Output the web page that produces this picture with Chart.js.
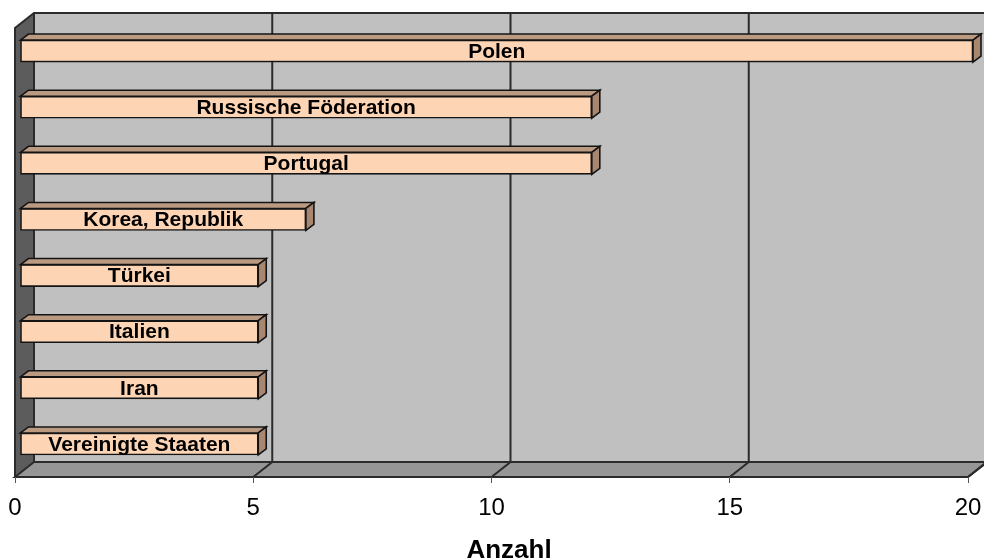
<!DOCTYPE html>
<html>
<head>
<meta charset="utf-8">
<script src="https://cdn.jsdelivr.net/npm/chart.js@4"></script>
<style>
  body { margin: 0; background: #fff; }
  #wrap { width: 984px; height: 560px; position: relative; }
</style>
</head>
<body>
<div id="wrap"><canvas id="barChart"></canvas></div>
<script>
// data
const categories = ['Polen', 'Russische Föderation', 'Portugal', 'Korea, Republik',
    'Türkei', 'Italien', 'Iran', 'Vereinigte Staaten'];
const anzahl = [20, 12, 12, 6, 5, 5, 5, 5];
const xMin = 0;
const xMax = 20;
const xStep = 5;
const axisTitle = 'Anzahl';

// depth of the fake 3d box
const DX = 19, DY = 15;
// bars sit a bit behind the front plane
const BX = 5, BY = 5;
// depth of each bar
const BDX = 8, BDY = 6;

const FONT = '"Liberation Sans", Arial, sans-serif';

const box3d = {
    id: 'box3d',
    beforeDraw(chart) {
        const ctx = chart.ctx;
        const a = chart.chartArea;
        const xs = chart.scales.x;
        ctx.save();
        ctx.lineJoin = 'miter';
        // back wall
        ctx.fillStyle = '#c0c0c0';
        ctx.fillRect(a.left + DX, a.top - DY, a.right - a.left, a.bottom - a.top);
        // floor
        ctx.beginPath();
        ctx.moveTo(a.left + DX, a.bottom - DY);
        ctx.lineTo(a.right + DX, a.bottom - DY);
        ctx.lineTo(a.right, a.bottom);
        ctx.lineTo(a.left, a.bottom);
        ctx.closePath();
        ctx.fillStyle = '#969696';
        ctx.fill();
        // left wall
        ctx.beginPath();
        ctx.moveTo(a.left, a.top);
        ctx.lineTo(a.left + DX, a.top - DY);
        ctx.lineTo(a.left + DX, a.bottom - DY);
        ctx.lineTo(a.left, a.bottom);
        ctx.closePath();
        ctx.fillStyle = '#5c5c5c';
        ctx.fill();

        ctx.strokeStyle = '#2b2b2b';
        ctx.lineWidth = 2;
        // grid lines on back wall and floor
        for (let v = xMin + xStep; v <= xMax; v += xStep) {
            const px = xs.getPixelForValue(v);
            ctx.beginPath();
            ctx.moveTo(px + DX, a.top - DY);
            ctx.lineTo(px + DX, a.bottom - DY);
            ctx.lineTo(px, a.bottom);
            ctx.stroke();
        }
        // outlines
        ctx.beginPath();
        ctx.moveTo(a.left, a.bottom);
        ctx.lineTo(a.left, a.top);
        ctx.lineTo(a.left + DX, a.top - DY);
        ctx.lineTo(a.right + DX, a.top - DY);
        ctx.moveTo(a.left + DX, a.top - DY);
        ctx.lineTo(a.left + DX, a.bottom - DY);
        ctx.lineTo(a.right + DX, a.bottom - DY);
        ctx.moveTo(a.left + DX, a.bottom - DY);
        ctx.lineTo(a.left, a.bottom);
        ctx.lineTo(a.right, a.bottom);
        ctx.lineTo(a.right + DX, a.bottom - DY);
        ctx.stroke();
        ctx.restore();
    },
    beforeDatasetsDraw(chart) {
        chart.ctx.save();
        chart.ctx.translate(BX, -BY);
    },
    afterDatasetsDraw(chart) {
        const ctx = chart.ctx;
        const meta = chart.getDatasetMeta(0);
        ctx.lineWidth = 1.6;
        ctx.strokeStyle = '#141414';
        meta.data.forEach((bar, i) => {
            const p = bar.getProps(['x', 'y', 'base', 'height'], true);
            const x0 = p.base, x1 = p.x;
            const yt = p.y - p.height / 2, yb = p.y + p.height / 2;
            // top face
            ctx.beginPath();
            ctx.moveTo(x0, yt);
            ctx.lineTo(x0 + BDX, yt - BDY);
            ctx.lineTo(x1 + BDX, yt - BDY);
            ctx.lineTo(x1, yt);
            ctx.closePath();
            ctx.fillStyle = '#bb9a82';
            ctx.fill();
            ctx.stroke();
            // side face
            ctx.beginPath();
            ctx.moveTo(x1, yt);
            ctx.lineTo(x1 + BDX, yt - BDY);
            ctx.lineTo(x1 + BDX, yb - BDY);
            ctx.lineTo(x1, yb);
            ctx.closePath();
            ctx.fillStyle = '#a88670';
            ctx.fill();
            ctx.stroke();
            // category label
            ctx.fillStyle = '#000';
            ctx.font = 'bold 21px ' + FONT;
            ctx.textAlign = 'center';
            ctx.textBaseline = 'middle';
            ctx.fillText(categories[i], (x0 + x1) / 2, p.y + 1);
        });
        ctx.restore();
    },
    afterDraw(chart) {
        // axis title, centred on the whole box incl. depth
        const ctx = chart.ctx;
        const a = chart.chartArea;
        ctx.save();
        ctx.fillStyle = '#000';
        ctx.font = 'bold 26px ' + FONT;
        ctx.textAlign = 'center';
        ctx.textBaseline = 'alphabetic';
        ctx.fillText(axisTitle, (a.left + a.right + DX + 16) / 2, 558);
        ctx.restore();
    }
};

const ctx = document.getElementById('barChart').getContext('2d');
const barChart = new Chart(ctx, {
    type: 'bar',
    data: {
        labels: categories,
        datasets: [{
            label: axisTitle,
            data: anzahl,
            backgroundColor: '#fdd5b5',
            borderColor: '#141414',
            borderWidth: 1.6,
            borderSkipped: false,
            barThickness: 22
        }]
    },
    options: {
        indexAxis: 'y',
        responsive: true,
        maintainAspectRatio: false,
        animation: false,
        layout: {
            padding: { left: 15, right: 16, top: 28, bottom: 0 }
        },
        plugins: {
            legend: { display: false },
            tooltip: { enabled: false }
        },
        scales: {
            x: {
                min: xMin,
                max: xMax,
                ticks: {
                    stepSize: xStep,
                    color: '#000',
                    padding: 11,
                    font: { family: FONT, size: 24 }
                },
                grid: {
                    drawOnChartArea: false,
                    drawTicks: true,
                    tickLength: 6,
                    color: '#555'
                },
                border: { display: false },
                afterFit(scale) {
                    scale.height = 83;
                    scale.paddingLeft = 0;
                    scale.paddingRight = 0;
                }
            },
            y: {
                display: false,
                grid: { display: false }
            }
        }
    },
    plugins: [box3d]
});
</script>
</body>
</html>
